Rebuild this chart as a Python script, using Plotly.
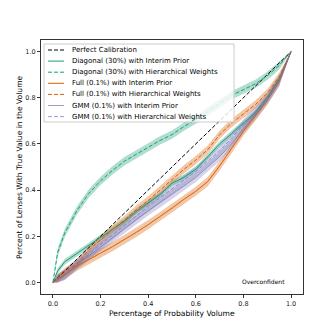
import plotly.graph_objs as go

# probability volume grid
x = [0, 0.02, 0.05, 0.1, 0.15, 0.2, 0.25, 0.3, 0.35, 0.4, 0.45, 0.5,
     0.55, 0.6, 0.65, 0.7, 0.75, 0.8, 0.85, 0.9, 0.95, 1.0]

diag_interim = [0, 0.05, 0.09, 0.125, 0.158, 0.193, 0.228, 0.265, 0.308, 0.345, 0.38, 0.43,
                0.455, 0.49, 0.545, 0.60, 0.645, 0.69, 0.735, 0.80, 0.88, 1.0]
diag_hier = [0, 0.13, 0.215, 0.31, 0.385, 0.44, 0.485, 0.525, 0.555, 0.585, 0.615, 0.64,
             0.675, 0.705, 0.74, 0.775, 0.81, 0.835, 0.86, 0.895, 0.94, 1.0]
full_interim = [0, 0.015, 0.035, 0.07, 0.10, 0.127, 0.155, 0.185, 0.217, 0.25, 0.285, 0.322,
                0.36, 0.395, 0.437, 0.505, 0.58, 0.655, 0.72, 0.79, 0.87, 1.0]
full_hier = [0, 0.018, 0.045, 0.08, 0.14, 0.185, 0.23, 0.27, 0.315, 0.355, 0.40, 0.445,
             0.49, 0.53, 0.575, 0.64, 0.69, 0.73, 0.77, 0.82, 0.89, 1.0]
gmm_interim = [0, 0.012, 0.03, 0.075, 0.115, 0.155, 0.195, 0.235, 0.272, 0.31, 0.345, 0.38,
               0.418, 0.455, 0.50, 0.545, 0.60, 0.665, 0.725, 0.79, 0.87, 1.0]
gmm_hier = [0, 0.015, 0.035, 0.08, 0.122, 0.165, 0.208, 0.25, 0.29, 0.33, 0.368, 0.405,
            0.442, 0.48, 0.525, 0.57, 0.625, 0.685, 0.74, 0.80, 0.88, 1.0]

# band half-widths
diag_interim_err = 0.012
diag_hier_err = 0.018
full_interim_err = 0.02
full_hier_err = 0.018
gmm_interim_err = 0.02
gmm_hier_err = 0.022

green = '#1b9e77'
orange = '#d95f02'
purple = '#7570b3'
DASH = '4px,2px'

def rgba(c, a):
    c = c.lstrip('#')
    return 'rgba(%d,%d,%d,%s)' % (int(c[0:2], 16), int(c[2:4], 16), int(c[4:6], 16), a)

series = [
    ('Diagonal (30%) with Interim Prior', diag_interim, diag_interim_err, green, 'solid', 0.35),
    ('Diagonal (30%) with Hierarchical Weights', diag_hier, diag_hier_err, green, DASH, 0.35),
    ('Full (0.1%) with Interim Prior', full_interim, full_interim_err, orange, 'solid', 0.35),
    ('Full (0.1%) with Hierarchical Weights', full_hier, full_hier_err, orange, DASH, 0.35),
    ('GMM (0.1%) with Interim Prior', gmm_interim, gmm_interim_err, purple, 'solid', 0.3),
    ('GMM (0.1%) with Hierarchical Weights', gmm_hier, gmm_hier_err, purple, DASH, 0.3),
]

fig = go.Figure()

# bands first
for name, y, err, col, dash, a in series:
    lo = [max(v - err, 0) if 0 < xi < 1 else v for xi, v in zip(x, y)]
    hi = [min(v + err, 1) if 0 < xi < 1 else v for xi, v in zip(x, y)]
    fig.add_trace(go.Scatter(x=x + x[::-1], y=hi + lo[::-1], fill='toself',
                             fillcolor=rgba(col, a), line=dict(width=0),
                             showlegend=False, hoverinfo='skip'))

fig.add_trace(go.Scatter(x=[0, 1], y=[0, 1], mode='lines', name='Perfect Calibration',
                         line=dict(color='black', width=1, dash=DASH)))

legend_items = [('Perfect Calibration', 'black', DASH)]
for name, y, err, col, dash, a in series:
    lc = col if col != purple else rgba(col, 0.7)
    fig.add_trace(go.Scatter(x=x, y=y, mode='lines', name=name,
                             line=dict(color=lc, width=1, dash=dash)))
    legend_items.append((name, lc, dash))

fig.add_annotation(x=0.886, y=0.005, text='Overconfident', showarrow=False,
                   font=dict(size=6, color='black'), xanchor='center', yanchor='middle')

# page body has an 8px margin; plot box wanted at these window pixels
OFF = 8
L, R, T, B = 41, 303, 40, 294
px = lambda p: (p - L) / (R - L)
py = lambda p: (B - p) / (B - T)

# hand-drawn legend (matplotlib-style compact box)
fig.add_shape(type='rect', xref='paper', yref='paper', x0=px(44), x1=px(234), y0=py(44), y1=py(122),
              fillcolor='rgba(255,255,255,0.8)', line=dict(color='#cccccc', width=1), layer='above')
for i, (name, col, dash) in enumerate(legend_items):
    yc = 50 + i * 11.1
    fig.add_shape(type='line', xref='paper', yref='paper', x0=px(48), x1=px(64), y0=py(yc), y1=py(yc),
                  line=dict(color=col, width=1, dash=dash), layer='above')
    fig.add_annotation(xref='paper', yref='paper', x=px(70), y=py(yc), text=name, showarrow=False,
                       xanchor='left', yanchor='middle', font=dict(size=7, color='black'))

# axis titles placed by hand
fig.add_annotation(xref='paper', yref='paper', x=px(172), y=py(313), text='Percentage of Probability Volume',
                   showarrow=False, xanchor='center', yanchor='middle', font=dict(size=7.6, color='black'))
fig.add_annotation(xref='paper', yref='paper', x=px(19), y=py(167),
                   text='Percent of Lenses With True Value in the Volume', textangle=-90,
                   showarrow=False, xanchor='center', yanchor='middle', font=dict(size=7.6, color='black'))

axis = dict(showgrid=False, zeroline=False, showline=True, mirror=True, linecolor='#333',
            linewidth=1, ticks='outside', ticklen=3, tickcolor='#333', automargin=False,
            tickfont=dict(size=6.5, color='#222'), range=[-0.05, 1.05],
            tickvals=[0, 0.2, 0.4, 0.6, 0.8, 1.0], ticktext=['0.0', '0.2', '0.4', '0.6', '0.8', '1.0'])

fig.update_layout(
    width=336, height=336, margin=dict(l=L - OFF, r=336 - R + OFF, t=T - OFF, b=336 - B + OFF),
    plot_bgcolor='white', paper_bgcolor='white',
    font=dict(family='DejaVu Sans', color='black'),
    xaxis=axis, yaxis=axis,
    showlegend=False,
)

fig.write_html("out.html")
